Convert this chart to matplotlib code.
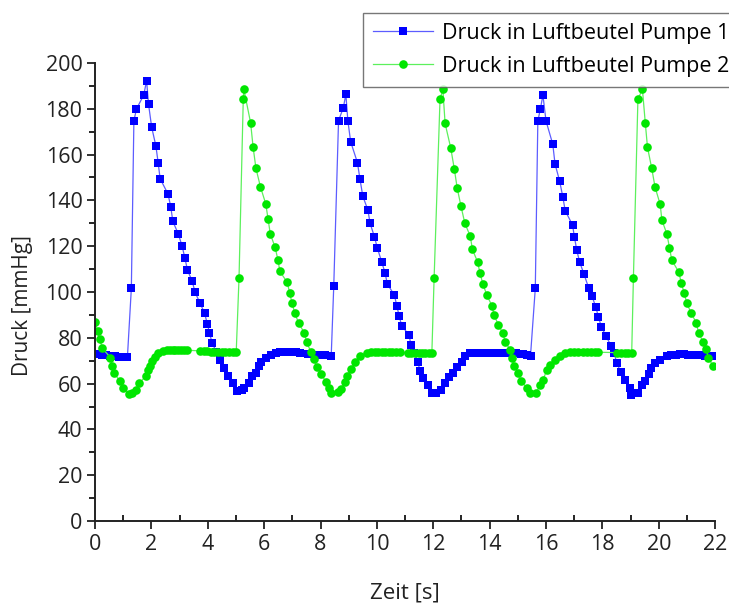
import matplotlib
matplotlib.use("Agg")
import matplotlib.pyplot as plt
from matplotlib.ticker import MultipleLocator

plt.rcParams['font.family'] = ['Open Sans', 'DejaVu Sans']

# Pressure in air bag of pump 1 (time [s], pressure [mmHg])
t_pump1 = [0.0, 0.12, 0.25, 0.4, 0.55, 0.7, 0.85, 1.15,
           1.29, 1.38, 1.47, 1.73, 1.83, 1.9, 2.01, 2.16, 2.24, 2.31,
           2.59, 2.69, 2.76, 2.95, 3.09, 3.19, 3.28, 3.45, 3.55, 3.72,
           3.89, 3.98, 4.06, 4.15, 4.3, 4.45, 4.56, 4.72, 4.9, 5.03,
           5.2, 5.3, 5.46, 5.58, 5.7, 5.82, 5.9, 6.07, 6.23, 6.41,
           6.56, 6.7, 6.85, 7.0, 7.12, 7.27, 7.56, 7.8, 7.98, 8.16, 8.38,
           8.47, 8.64, 8.81, 8.9, 8.97, 9.07, 9.31, 9.4, 9.5, 9.68,
           9.76, 9.91, 10.02, 10.17, 10.29, 10.37, 10.62, 10.71, 10.79,
           10.88, 11.14, 11.21, 11.33, 11.45, 11.53, 11.65, 11.8, 11.95,
           12.1, 12.28, 12.42, 12.56, 12.69, 12.84, 13.01, 13.13,
           13.3, 13.45, 13.6, 13.75, 13.9, 14.05, 14.2, 14.35, 14.5,
           14.65, 14.8, 14.95, 15.1, 15.2, 15.32, 15.45,
           15.62, 15.71, 15.8, 15.89, 16.0, 16.24, 16.32, 16.48, 16.6,
           16.68, 16.94, 17.01, 17.09, 17.19, 17.35, 17.51, 17.63, 17.76,
           17.86, 17.96, 18.13, 18.31, 18.42, 18.51, 18.65, 18.81, 18.98,
           19.03, 19.26, 19.4, 19.52, 19.64, 19.73, 19.87, 20.05, 20.29,
           20.45, 20.6, 20.75, 20.9, 21.05, 21.2, 21.35, 21.47, 21.65, 21.88]
p_pump1 = [73.0, 72.8, 72.6, 72.4, 72.2, 72.0, 71.8, 71.5,
           101.6, 174.7, 179.9, 186.0, 192.3, 182.0, 172.0, 163.8, 156.5, 149.5,
           142.8, 137.1, 130.9, 125.5, 120.1, 114.8, 109.6, 104.7, 99.9, 95.3,
           90.7, 86.2, 82.1, 77.9, 74.0, 70.3, 66.7, 63.3, 60.1, 56.8,
           57.2, 58.0, 60.4, 63.3, 64.8, 67.7, 69.6, 71.3, 72.5, 73.2,
           73.6, 73.8, 73.8, 73.7, 73.6, 73.5, 73.0, 72.7, 72.7, 72.5, 72.0,
           102.5, 174.8, 180.5, 186.3, 174.8, 165.6, 156.5, 149.3, 141.9, 135.8,
           130.0, 124.2, 119.1, 113.2, 108.4, 103.5, 98.7, 93.9, 89.5,
           85.3, 81.2, 76.9, 73.2, 69.6, 65.6, 62.3, 59.5, 55.8,
           55.9, 57.2, 60.4, 63.0, 64.5, 67.4, 69.6, 72.2,
           73.3, 73.5, 73.5, 73.5, 73.5, 73.5, 73.5, 73.4, 73.4,
           73.3, 73.2, 73.2, 73.0, 72.8, 72.5, 72.2,
           101.6, 174.7, 179.9, 186.0, 174.7, 164.5, 155.9, 148.6, 141.3,
           135.5, 129.3, 123.9, 118.3, 113.2, 107.7, 101.9, 98.3, 93.6,
           89.2, 84.8, 80.8, 76.4, 73.2, 68.9, 65.2, 61.6, 58.0,
           55.0, 56.0, 59.4, 61.3, 64.2, 66.7, 68.9, 70.3, 72.0,
           72.5, 72.7, 72.8, 72.8, 72.7, 72.7, 72.6, 72.5, 72.2, 72.0]

# Pressure in air bag of pump 2 (time [s], pressure [mmHg])
t_pump2 = [0.01, 0.09, 0.17, 0.26, 0.55, 0.6, 0.69, 0.87, 1.0, 1.19,
           1.3, 1.46, 1.56, 1.8, 1.88, 1.95, 2.01, 2.13, 2.25, 2.4,
           2.54, 2.65, 2.75, 2.85, 2.95, 3.05, 3.15, 3.25,
           3.73, 3.85, 3.97, 4.1, 4.22, 4.35, 4.5, 4.62, 4.75, 4.88, 5.01,
           5.11, 5.26, 5.28, 5.52, 5.61, 5.71, 5.87, 6.06, 6.14, 6.22,
           6.39, 6.49, 6.56, 6.82, 6.91, 6.99, 7.09, 7.22, 7.43, 7.51,
           7.66, 7.78, 7.87, 8.02, 8.2, 8.3, 8.38, 8.62, 8.72, 8.87,
           8.95, 9.07, 9.23, 9.4, 9.64,
           9.8, 9.92, 10.05, 10.18, 10.3, 10.42, 10.55, 10.68, 10.82,
           11.1, 11.22, 11.35, 11.48, 11.6, 11.72, 11.85, 11.95,
           12.03, 12.24, 12.34, 12.42, 12.62, 12.75, 12.85, 12.98, 13.12,
           13.31, 13.39, 13.57, 13.66, 13.76, 13.9, 14.08, 14.16, 14.31,
           14.47, 14.55, 14.73, 14.79, 14.87, 15.02, 15.11, 15.32, 15.44,
           15.65, 15.79, 15.89, 16.03, 16.15, 16.32, 16.5, 16.68,
           16.86, 17.0, 17.15, 17.3, 17.45, 17.6, 17.75, 17.86,
           18.51, 18.65, 18.8, 18.92, 19.04,
           19.1, 19.26, 19.42, 19.52, 19.6, 19.75, 19.87, 20.05, 20.11,
           20.29, 20.38, 20.46, 20.7, 20.8, 20.9, 21.0, 21.15, 21.33,
           21.41, 21.57, 21.69, 21.75, 21.93]
p_pump2 = [87.0, 83.0, 79.3, 75.5, 71.3, 67.7, 64.5, 61.3, 58.2, 55.4,
           56.0, 57.2, 60.1, 63.2, 65.9, 67.7, 70.0, 71.8, 73.3, 74.4,
           74.7, 74.7, 74.7, 74.7, 74.7, 74.7, 74.6, 74.6,
           74.3, 74.2, 74.1, 74.0, 74.0, 73.9, 73.9, 73.8, 73.8, 73.7, 73.7,
           106.3, 184.1, 188.6, 173.9, 163.2, 154.0, 145.9, 138.4, 131.7, 125.3,
           119.5, 114.0, 109.0, 104.2, 99.4, 95.1, 90.7, 86.6, 82.0, 78.0,
           73.9, 70.6, 67.4, 64.0, 60.8, 57.9, 55.8, 56.5, 57.5, 60.8,
           63.5, 66.2, 69.6, 72.0, 73.5,
           73.7, 73.7, 73.7, 73.7, 73.7, 73.7, 73.7, 73.7, 73.6,
           73.4, 73.4, 73.3, 73.3, 73.3, 73.2, 73.2, 73.2,
           106.0, 184.1, 188.6, 173.6, 162.9, 153.5, 145.3, 137.7, 130.0,
           124.5, 118.6, 113.2, 108.2, 103.5, 98.7, 94.0, 89.9, 85.6,
           82.0, 78.3, 74.7, 71.3, 67.7, 64.5, 61.3, 58.0, 55.8,
           55.9, 59.4, 61.6, 65.9, 68.1, 70.3, 72.0, 73.2,
           73.7, 73.7, 73.7, 73.7, 73.7, 73.7, 73.7, 73.7,
           73.5, 73.5, 73.5, 73.5, 73.5,
           106.0, 184.1, 188.6, 174.0, 163.2, 154.0, 145.7, 138.3, 131.4,
           125.3, 119.3, 114.0, 108.9, 104.1, 99.4, 95.0, 90.7, 86.6,
           82.2, 78.3, 75.0, 71.3, 67.7]

x_ticks = list(range(0, 23, 2))
y_ticks = list(range(0, 201, 20))

fig = plt.figure(figsize=(7.29, 6.05), dpi=100)
ax = fig.add_axes([0.1303, 0.1388, 0.8507, 0.7571])

ax.plot(t_pump1, p_pump1, color='#5c5cff', lw=0.9, marker='s', ms=5.4,
        mec='#0000ff', mew=0, mfc='#0000ff', label='Druck in Luftbeutel Pumpe 1')
ax.plot(t_pump2, p_pump2, color='#5cf05c', lw=0.9, marker='o', ms=6.2,
        mec='#00e600', mew=0, mfc='#00e600', label='Druck in Luftbeutel Pumpe 2')

ax.set_xlim(0, 22)
ax.set_ylim(0, 200)
ax.set_xticks(x_ticks)
ax.set_yticks(y_ticks)
ax.xaxis.set_minor_locator(MultipleLocator(1))
ax.yaxis.set_minor_locator(MultipleLocator(10))

for side in ('top', 'right'):
    ax.spines[side].set_visible(False)
for side in ('left', 'bottom'):
    ax.spines[side].set_linewidth(1.4)
    ax.spines[side].set_color('#222222')

ax.tick_params(axis='both', which='major', direction='out', length=6,
               width=1.3, labelsize=15.5, colors='#222222', pad=3)
ax.tick_params(axis='x', which='minor', direction='in', length=4, width=1.2)
ax.tick_params(axis='y', which='minor', direction='out', length=4, width=1.2)

ax.set_xlabel('Zeit [s]', fontsize=16, color='#222222', labelpad=20)
ax.set_ylabel('Druck [mmHg]', fontsize=15, color='#222222')
ax.yaxis.set_label_coords(-0.1, 0.47)

leg = fig.legend(loc='upper left', bbox_to_anchor=(0.498, 0.978),
                 fontsize=15.5, frameon=True, fancybox=False,
                 edgecolor='#555555', handlelength=2.8, handletextpad=0.4,
                 borderpad=0.45, labelspacing=0.55, borderaxespad=0)
leg.get_frame().set_linewidth(1.0)

fig.savefig('out.png', dpi=100)
